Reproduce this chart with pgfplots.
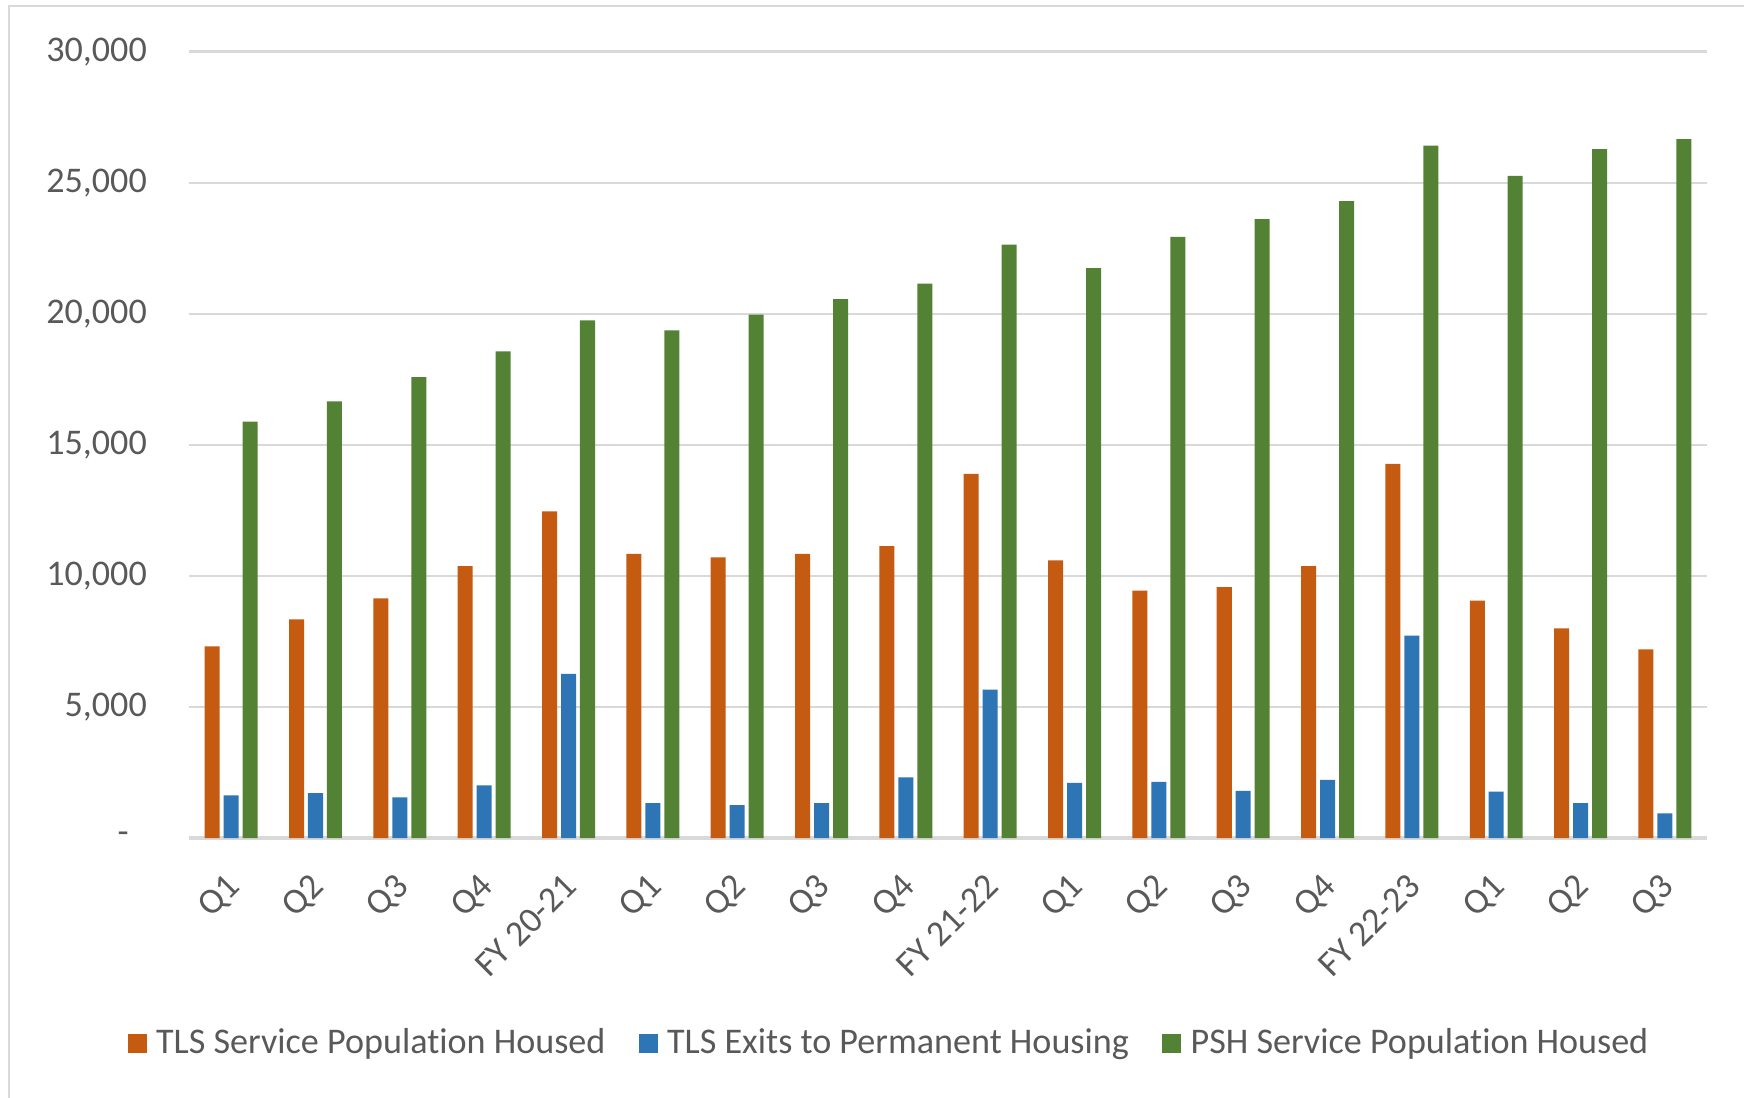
\documentclass[border=0pt]{standalone}
\usepackage{pgfplots}
\pgfplotsset{compat=1.18}
\usepackage{fontspec}
\setmainfont{Carlito}[RawFeature=-liga]
\definecolor{tlsorange}{HTML}{C55A11}
\definecolor{tlsblue}{HTML}{2E75B6}
\definecolor{pshgreen}{HTML}{548235}
\definecolor{txtgray}{HTML}{595959}
\definecolor{gridgray}{HTML}{D9D9D9}
\begin{document}
\begin{tikzpicture}
\useasboundingbox (-68.04pt,-93.6pt) rectangle (559.8pt,301.68pt);
\draw[gridgray, line width=1pt] (-64.8pt,-120pt) -- (-64.8pt,299.5pt) -- (600pt,299.5pt);
\begin{axis}[
  at={(0,0)}, anchor=south west,
  scale only axis, width=546.5pt, height=283pt,
  ybar, bar width=0.178,
  xmin=-0.5, xmax=17.5, ymin=0, ymax=30000,
  scaled y ticks=false,
  xtick={0,...,17},
  xticklabels={Q1,Q2,Q3,Q4,FY 20-21,Q1,Q2,Q3,Q4,FY 21-22,Q1,Q2,Q3,Q4,FY 22-23,Q1,Q2,Q3},
  ytick={0,5000,10000,15000,20000,25000,30000},
  yticklabels={{-\hspace*{6.5pt}},{5,000},{10,000},{15,000},{20,000},{25,000},{30,000}},
  ymajorgrids, grid style={gridgray, line width=1pt},
  axis lines*=left,
  x axis line style={gridgray, line width=1.2pt},
  y axis line style={draw=none},
  major tick length=0pt, tick style={draw=none},
  tick label style={font=\fontsize{13}{15}\selectfont, text=txtgray},
  xticklabel style={xshift=-2.3pt, yshift=-12pt, rotate=45, anchor=north east, inner sep=0pt},
  yticklabel style={anchor=east, inner sep=0pt, xshift=-15pt},
  legend image code/.code={\fill[#1] (0pt,-3.4pt) rectangle (6.8pt,3.4pt); \path (10.2pt,0pt);},
  legend style={draw=none, at={(0.4605,-0.261)}, anchor=center, legend columns=-1,
    font=\fontsize{13}{15}\selectfont, text=txtgray,
    /tikz/every even column/.append style={column sep=12pt},
    nodes={inner xsep=0pt}},
  legend cell align=left,
]
\addplot[fill=tlsorange, draw=none, bar shift=-0.225] coordinates {
(0,7310) (1,8340) (2,9140) (3,10380) (4,12460) (5,10840) (6,10710) (7,10840) (8,11140)
(9,13900) (10,10590) (11,9440) (12,9570) (13,10380) (14,14280) (15,9060) (16,8000) (17,7200)};
\addplot[fill=tlsblue, draw=none, bar shift=0] coordinates {
(0,1630) (1,1710) (2,1550) (3,2010) (4,6260) (5,1330) (6,1250) (7,1330) (8,2310)
(9,5660) (10,2100) (11,2140) (12,1800) (13,2220) (14,7720) (15,1770) (16,1330) (17,940)};
\addplot[fill=pshgreen, draw=none, bar shift=0.225] coordinates {
(0,15890) (1,16660) (2,17590) (3,18570) (4,19750) (5,19370) (6,19970) (7,20560) (8,21160)
(9,22640) (10,21750) (11,22940) (12,23620) (13,24300) (14,26420) (15,25270) (16,26290) (17,26670)};
\legend{TLS Service Population Housed, TLS Exits to Permanent Housing, PSH Service Population Housed}
\end{axis}
\end{tikzpicture}
\end{document}
